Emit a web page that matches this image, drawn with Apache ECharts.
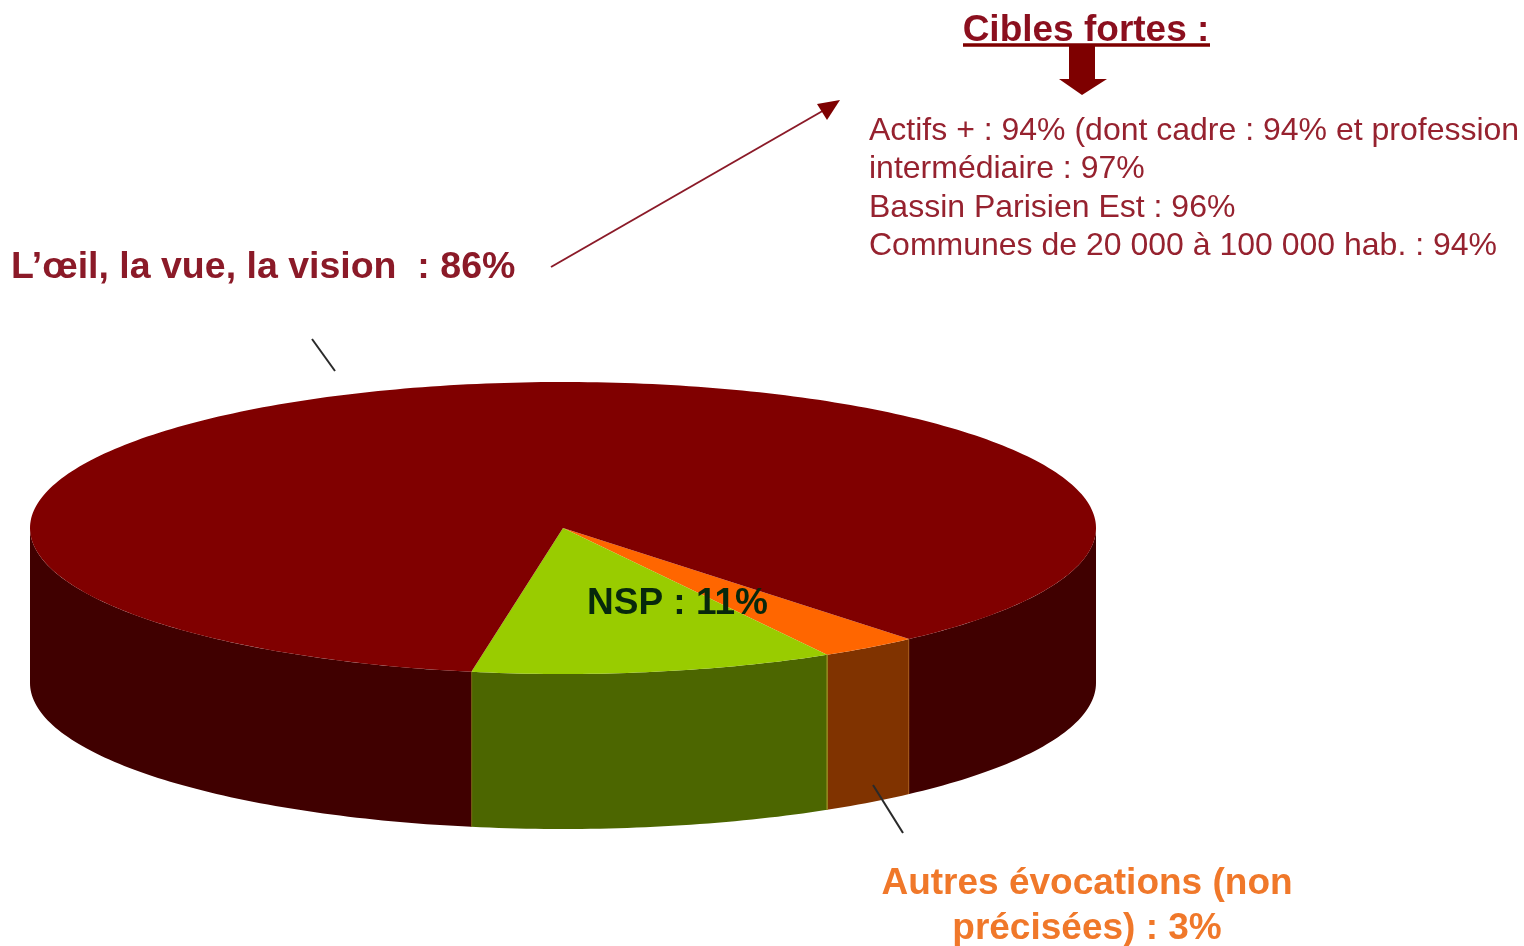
<!DOCTYPE html>
<html>
<head>
<meta charset="utf-8">
<style>
html,body{margin:0;padding:0;background:#fff;overflow:hidden}
#c{width:1524px;height:946px;filter:blur(0.6px)}
</style>
<script src="https://cdn.jsdelivr.net/npm/echarts@6/dist/echarts.min.js"></script>
</head>
<body>
<div id="c"></div>
<script>
const categories = ['Autres évocations (non précisées)', 'NSP', "L'œil, la vue, la vision"];
const values = [3, 11, 86];
const topColors = ['#FF6600', '#99CC00', '#800000'];
const sideColors = ['#803300', '#4C6600', '#400000'];
const seamColors = ['#B8702A', '#8F8A1E', null];
const detailLines = [
  'Actifs + : 94% (dont cadre : 94% et profession',
  'intermédiaire : 97%',
  'Bassin Parisien Est : 96%',
  'Communes de 20 000 à 100 000 hab. : 94%'
];

const CX = 563, CY = 528, RX = 533, RY = 146, DEPTH = 155, START = 49.5;
const total = values.reduce((a, b) => a + b, 0);
const pt = (deg, dy) => {
  const r = deg * Math.PI / 180;
  return [CX + RX * Math.cos(r), CY + RY * Math.sin(r) + (dy || 0)];
};
const arc = (from, to, dy) => {
  const out = [], n = Math.max(2, Math.ceil(Math.abs(to - from)));
  for (let i = 0; i <= n; i++) out.push(pt(from + (to - from) * i / n, dy));
  return out;
};
const before = i => values.slice(0, i).reduce((a, b) => a + b, 0);

function renderSlice(params, api) {
  const i = params.dataIndex;
  const a0 = START + before(i) / total * 360;
  const a1 = a0 + api.value(0) / total * 360;
  const children = [];
  // visible outer wall: the arc parts that face the viewer (0 to 180 degrees, also past a full turn)
  [[0, 180], [360, 540]].forEach(w => {
    const f = Math.max(a0, w[0]), t = Math.min(a1, w[1]);
    if (f < t) {
      children.push({
        type: 'polygon',
        shape: { points: arc(f, t, 0).concat(arc(t, f, DEPTH)) },
        style: { fill: sideColors[i] }
      });
    }
  });
  children.push({
    type: 'polygon',
    shape: { points: [[CX, CY]].concat(arc(a0, a1, 0)) },
    style: { fill: topColors[i] }
  });
  if (seamColors[i]) {
    [a0, a1].forEach(a => {
      const p = pt(a, 0);
      children.push({
        type: 'line',
        shape: { x1: p[0], y1: p[1], x2: p[0], y2: p[1] + DEPTH },
        style: { stroke: seamColors[i], lineWidth: 1.5 }
      });
    });
  }
  return { type: 'group', children };
}

const FONT = '"Liberation Sans", Arial, sans-serif';
const text = (x, y, t, size, weight, fill, align) => ({
  type: 'text', x, y, z: 100,
  style: { text: t, fontFamily: FONT, fontSize: size, fontWeight: weight, fill, textAlign: align || 'left', textVerticalAlign: 'middle' }
});
const seg = (x1, y1, x2, y2, stroke, lineWidth) => ({
  type: 'line', z: 100, shape: { x1, y1, x2, y2 }, style: { stroke, lineWidth }
});
const poly = (points, fill) => ({ type: 'polygon', z: 100, shape: { points }, style: { fill } });

const chart = echarts.init(document.getElementById('c'), null, { renderer: 'canvas', width: 1524, height: 946 });
chart.setOption({
  animation: false,
  backgroundColor: '#ffffff',
  series: [{
    type: 'custom',
    coordinateSystem: 'none',
    silent: true,
    data: values.map((v, i) => ({ name: categories[i], value: [v] })),
    renderItem: renderSlice
  }],
  graphic: { elements: [
    text(1086, 31, 'Cibles fortes :', 37, 'bold', '#8B0F1E', 'center'),
    seg(963, 45, 1210, 45, '#7E0000', 3.5),
    poly([[1069, 44], [1095, 44], [1095, 79], [1107, 79], [1082, 95], [1059, 79], [1069, 79]], '#7E0000'),
    text(869, 131, detailLines[0], 32, 'normal', '#96222F'),
    text(869, 169, detailLines[1], 32, 'normal', '#96222F'),
    text(869, 208, detailLines[2], 32, 'normal', '#96222F'),
    text(869, 246, detailLines[3], 32, 'normal', '#96222F'),
    text(11, 268, "L’œil, la vue, la vision  : " + values[2] + '%', 37.5, 'bold', '#8B1A28'),
    text(587, 604, 'NSP : ' + values[1] + '%', 37, 'bold', '#07280C'),
    text(1087, 884, 'Autres évocations (non', 37, 'bold', '#F0782A', 'center'),
    text(1087, 929, 'précisées) : ' + values[0] + '%', 37, 'bold', '#F0782A', 'center'),
    seg(551, 267, 826, 109, '#8B1A28', 2),
    poly([[840, 100], [827, 120], [817, 104]], '#7E0000'),
    seg(312, 339, 335, 371, '#2a2a2a', 2),
    seg(873, 785, 903, 833, '#2a2a2a', 2)
  ] }
});
</script>
</body>
</html>
